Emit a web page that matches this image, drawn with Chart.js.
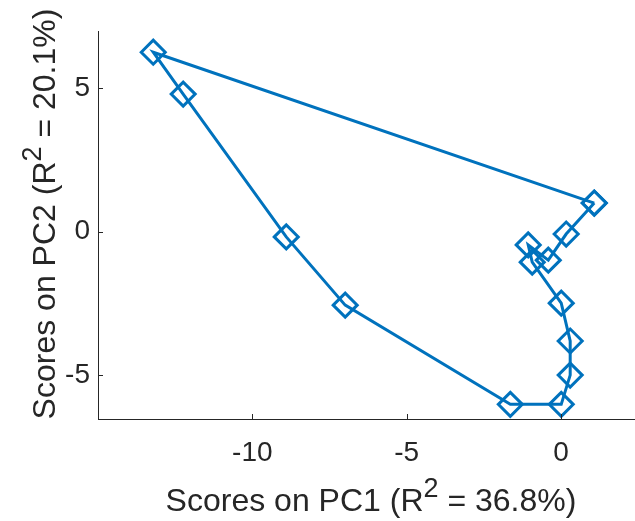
<!DOCTYPE html>
<html>
<head>
<meta charset="utf-8">
<title>PCA scores</title>
<script src="https://cdn.jsdelivr.net/npm/chart.js@4.4.1/dist/chart.umd.min.js"></script>
<style>
  html, body { margin: 0; padding: 0; background: #fff; }
  #wrap { width: 635px; height: 521px; }
</style>
</head>
<body>
<div id="wrap"><canvas id="scoresCanvas"></canvas></div>
<script>
// scores, in sample order (the trajectory closes back on its first sample)
const pc1Scores = [1.08, -13.21, -12.24, -8.90, -6.99, -1.64, 0.01, 0.30, 0.30, 0.01, -0.93, -1.06, -0.41, 0.17, 1.08];
const pc2Scores = [1.00, 6.26, 4.80, -0.18, -2.56, -6.02, -6.02, -5.00, -3.81, -2.49, -1.06, -0.46, -0.99, -0.08, 1.00];

const xTickValues = [-10, -5, 0];
const yTickValues = [-5, 0, 5];
const xLimits = [-15, 2.4];
const yLimits = [-6.53, 7];

const xTitle = [["Scores on PC1 (R"], ["2", true], [" = 36.8%)"]];
const yTitle = [["Scores on PC2 (R"], ["2", true], [" = 20.1%)"]];

const FONT = "'Liberation Sans', Arial, sans-serif";
const AXIS_COLOR = "#262626";
const LINE_COLOR = "#0072BD";

// text with a raised superscript, centred on (cx, baseline)
function drawRichLabel(ctx, parts, cx, baseline) {
  const size = 32, supSize = 27, raise = 14;
  let total = 0;
  parts.forEach(([t, sup]) => {
    ctx.font = `${sup ? supSize : size}px ${FONT}`;
    total += ctx.measureText(t).width;
  });
  let x = cx - total / 2;
  ctx.textAlign = "left";
  ctx.textBaseline = "alphabetic";
  parts.forEach(([t, sup]) => {
    ctx.font = `${sup ? supSize : size}px ${FONT}`;
    ctx.fillText(t, x, sup ? baseline - raise : baseline);
    x += ctx.measureText(t).width;
  });
}

// inward tick marks and the two axis labels
const axisDecor = {
  id: "axisDecor",
  afterDraw(chart) {
    const { ctx, chartArea, scales } = chart;
    const xs = scales.x, ys = scales.y;
    ctx.save();
    ctx.strokeStyle = AXIS_COLOR;
    ctx.lineWidth = 1;
    ctx.beginPath();
    xTickValues.forEach(v => {
      const px = Math.round(xs.getPixelForValue(v)) + 0.5;
      ctx.moveTo(px, chartArea.bottom);
      ctx.lineTo(px, chartArea.bottom - 5);
    });
    yTickValues.forEach(v => {
      const py = Math.round(ys.getPixelForValue(v)) + 0.5;
      ctx.moveTo(chartArea.left, py);
      ctx.lineTo(chartArea.left + 5, py);
    });
    ctx.stroke();

    ctx.fillStyle = AXIS_COLOR;
    drawRichLabel(ctx, xTitle, 371, 511);
    ctx.translate(55, 214);
    ctx.rotate(-Math.PI / 2);
    drawRichLabel(ctx, yTitle, 0, 0);
    ctx.restore();
  }
};

const points = pc1Scores.map((x, i) => ({ x, y: pc2Scores[i] }));

new Chart(document.getElementById("scoresCanvas"), {
  type: "scatter",
  data: {
    datasets: [{
      data: points,
      showLine: true,
      borderColor: LINE_COLOR,
      borderWidth: 3,
      tension: 0,
      pointStyle: "rectRot",
      pointRadius: 12,
      pointBorderWidth: 3,
      pointBorderColor: LINE_COLOR,
      pointBackgroundColor: "rgba(0,0,0,0)"
    }]
  },
  options: {
    responsive: true,
    maintainAspectRatio: false,
    animation: false,
    layout: { autoPadding: false, padding: { top: 31, right: 0, left: 0, bottom: 0 } },
    plugins: {
      legend: { display: false },
      tooltip: { enabled: false }
    },
    scales: {
      x: {
        type: "linear",
        min: xLimits[0],
        max: xLimits[1],
        afterBuildTicks: s => { s.ticks = xTickValues.map(v => ({ value: v })); },
        afterFit: s => { s.height = 102; },
        grid: { display: false, drawTicks: false },
        border: { display: true, color: AXIS_COLOR, width: 1 },
        ticks: { padding: 17, color: AXIS_COLOR, font: { family: FONT, size: 28 }, maxRotation: 0 }
      },
      y: {
        type: "linear",
        min: yLimits[0],
        max: yLimits[1],
        afterBuildTicks: s => { s.ticks = yTickValues.map(v => ({ value: v })); },
        afterFit: s => { s.width = 98; },
        grid: { display: false, drawTicks: false },
        border: { display: true, color: AXIS_COLOR, width: 1 },
        ticks: { padding: 8, color: AXIS_COLOR, font: { family: FONT, size: 28 } }
      }
    }
  },
  plugins: [axisDecor]
});
</script>
</body>
</html>
